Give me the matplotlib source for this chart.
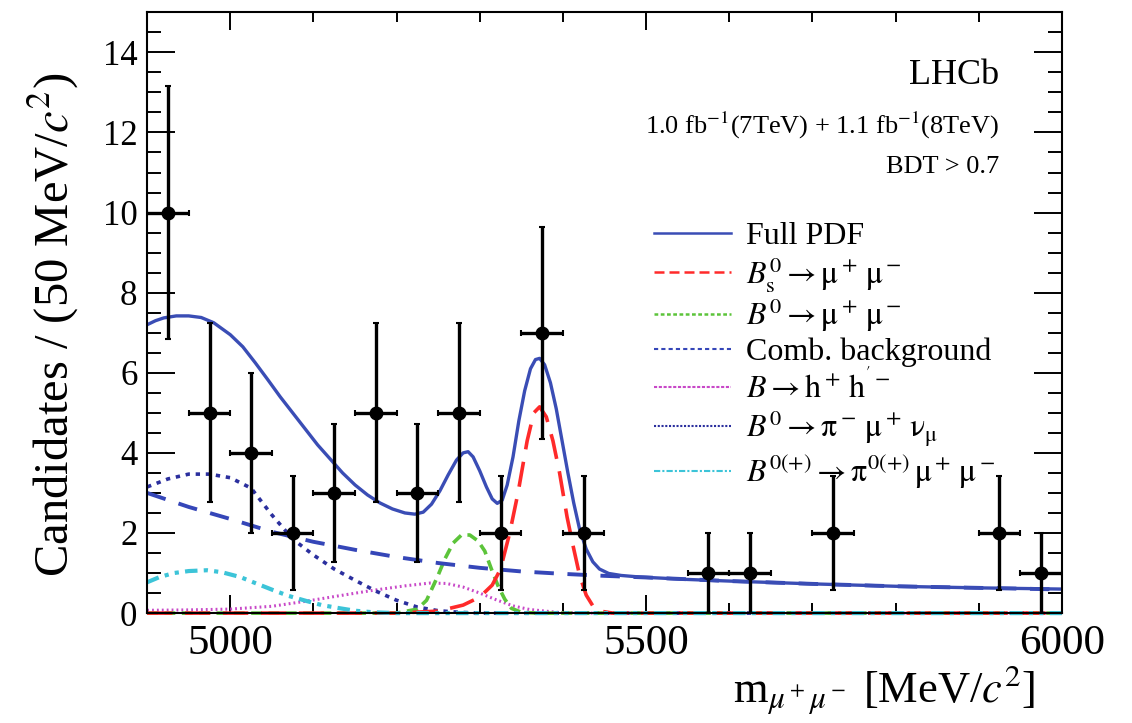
import matplotlib
matplotlib.use("Agg")
import matplotlib.pyplot as plt
from matplotlib.lines import Line2D
from matplotlib.ticker import MultipleLocator
import numpy as np

plt.rcParams['font.family'] = ['Liberation Serif', 'DejaVu Serif']
plt.rcParams['mathtext.fontset'] = 'stix'

# data points (bin centres, 50 MeV bins), empty bins not drawn
bin_centres = [4925, 4975, 5025, 5075, 5125, 5175, 5225, 5275, 5325, 5375,
               5425, 5575, 5625, 5725, 5925, 5975]
counts = [10, 5, 4, 2, 3, 5, 3, 5, 2, 7, 2, 1, 1, 2, 2, 1]

# fit curves
full_m = [4900, 4910, 4920, 4935, 4950, 4965, 4980, 5000, 5015, 5030, 5045,
          5060, 5075, 5090, 5105, 5120, 5135, 5150, 5165, 5180, 5195, 5210,
          5222, 5232, 5242, 5252, 5262, 5272, 5280, 5286, 5292, 5300, 5308,
          5315, 5321, 5327, 5333, 5340, 5347, 5354, 5361, 5367, 5372, 5378,
          5385, 5392, 5399, 5406, 5413, 5420, 5428, 5436, 5444, 5455, 5470,
          5493, 5550, 5600, 5700, 5800, 5900, 6000]
full_v = [7.2, 7.3, 7.37, 7.42, 7.42, 7.38, 7.25, 6.95, 6.65, 6.25, 5.83,
          5.4, 5.0, 4.6, 4.2, 3.85, 3.5, 3.2, 2.95, 2.75, 2.6, 2.5,
          2.47, 2.52, 2.72, 3.05, 3.45, 3.82, 4.0, 4.03, 3.9, 3.55, 3.15,
          2.85, 2.74, 2.82, 3.2, 3.9, 4.8, 5.55, 6.1, 6.33, 6.36, 6.2,
          5.75, 5.1, 4.3, 3.5, 2.75, 2.1, 1.6, 1.28, 1.1, 0.99, 0.94,
          0.9, 0.84, 0.8, 0.73, 0.67, 0.63, 0.6]

bs_m = [4900, 5200, 5250, 5280, 5300, 5315, 5325, 5336, 5346, 5357, 5365,
        5372, 5380, 5388, 5396, 5405, 5412, 5420, 5428, 5436, 5445, 5460, 6000]
bs_v = [0, 0, 0.05, 0.2, 0.4, 0.7, 1.1, 2.0, 3.0, 4.3, 5.0,
        5.15, 4.9, 4.3, 3.5, 2.4, 1.7, 0.95, 0.45, 0.18, 0.05, 0, 0]

bd_m = [4900, 5200, 5225, 5236, 5249, 5258, 5268, 5278, 5288, 5298, 5306,
        5314, 5322, 5330, 5338, 5350, 5370, 6000]
bd_v = [0, 0, 0.1, 0.32, 0.9, 1.35, 1.75, 1.95, 1.95, 1.8, 1.55,
        1.1, 0.68, 0.35, 0.12, 0.02, 0, 0]

comb_m = [4900, 4950, 5000, 5050, 5100, 5150, 5200, 5250, 5300, 5350, 5400,
          5450, 5500, 5600, 5700, 5800, 5900, 6000]
comb_v = [3.0, 2.65, 2.35, 2.03, 1.78, 1.58, 1.4, 1.25, 1.13, 1.04, 0.98,
          0.93, 0.89, 0.8, 0.73, 0.67, 0.63, 0.59]

hh_m = [4900, 4950, 5000, 5050, 5092, 5130, 5172, 5210, 5240, 5260, 5280,
        5300, 5320, 5340, 5360, 5393, 5420, 6000]
hh_v = [0.07, 0.08, 0.1, 0.17, 0.3, 0.43, 0.57, 0.68, 0.75, 0.74, 0.65,
        0.5, 0.33, 0.18, 0.09, 0.02, 0, 0]

pimunu_m = [4900, 4925, 4950, 4975, 5000, 5025, 5050, 5075, 5100, 5125, 5150,
            5175, 5200, 5225, 5250, 5275, 5300, 6000]
pimunu_v = [3.15, 3.35, 3.47, 3.47, 3.38, 3.12, 2.45, 1.85, 1.45, 1.1, 0.82,
            0.55, 0.32, 0.15, 0.06, 0.02, 0, 0]

pimumu_m = [4900, 4915, 4932, 4950, 4972, 4990, 5012, 5030, 5052, 5070, 5092,
            5110, 5132, 5150, 5172, 5200, 6000]
pimumu_v = [0.77, 0.9, 1.0, 1.05, 1.07, 1.02, 0.9, 0.75, 0.57, 0.43, 0.3,
            0.2, 0.12, 0.06, 0.02, 0, 0]

c_full = '#3a4db5'
c_bs = '#ff2a2a'
c_bd = '#5cc43a'
c_comb = '#3546b8'
c_hh = '#c848c8'
c_pimunu = '#2b2f9e'
c_pimumu = '#3cc4d8'

fig = plt.figure(figsize=(11.32, 7.23), dpi=100)
ax = fig.add_axes([0.130, 0.152, 0.808, 0.831])

# components (baseline parts drawn over the bottom spine, as in the original)
ax.plot(hh_m, hh_v, color=c_hh, lw=2.2, ls=(0, (0.6, 1.0)), clip_on=False)
ax.plot(pimunu_m, pimunu_v, color=c_pimunu, lw=2.6, ls=(0, (1.2, 1.6)),
        clip_on=False)
ax.plot(bd_m, bd_v, color=c_bd, lw=2.6, ls=(0, (3, 1.8)), clip_on=False)
ax.plot(bs_m, bs_v, color=c_bs, lw=2.6, ls=(0, (7, 3.5)), clip_on=False)
ax.plot(pimumu_m, pimumu_v, color=c_pimumu, lw=3.0,
        ls=(0, (3, 1.5, 1, 1.5, 1, 1.5)), clip_on=False)
ax.plot(comb_m, comb_v, color=c_comb, lw=2.8, ls=(0, (5, 3.5)))
ax.plot(full_m, full_v, color=c_full, lw=2.4)

errs = np.sqrt(counts)
ax.errorbar(bin_centres, counts, xerr=25, yerr=errs, fmt='o', color='black',
            ms=9, elinewidth=2.4, capsize=2.5, capthick=1.5, zorder=5)

ax.set_xlim(4900, 6000)
ax.set_ylim(0, 15)
ax.xaxis.set_major_locator(MultipleLocator(500))
ax.xaxis.set_minor_locator(MultipleLocator(100))
ax.yaxis.set_major_locator(MultipleLocator(2))
ax.yaxis.set_minor_locator(MultipleLocator(0.5))
ax.tick_params(which='both', direction='in', top=True, right=True, width=1.4)
ax.tick_params(axis='y', which='major', length=20, pad=7, labelsize=25)
ax.tick_params(axis='y', which='minor', length=10)
ax.tick_params(axis='x', which='major', length=13, pad=8, labelsize=31)
ax.tick_params(axis='x', which='minor', length=7)
for s in ax.spines.values():
    s.set_linewidth(1.5)

ax.set_ylabel(r"Candidates / (50 MeV/$c^2$)", fontsize=35)
ax.yaxis.set_label_coords(-0.072, 0.48)
fig.text(1035 / 1132, 1 - 690 / 723, r"m$_{\mu^+\mu^-}$ [MeV/$c^2$]",
         fontsize=32, ha='right', va='center')

ax.text(0.932, 0.895, "LHCb", transform=ax.transAxes, fontsize=26,
        ha='right', va='center')
ax.text(0.932, 0.812, r"1.0 fb$^{-1}$(7TeV) + 1.1 fb$^{-1}$(8TeV)",
        transform=ax.transAxes, fontsize=19, ha='right', va='center')
ax.text(0.932, 0.742, "BDT > 0.7", transform=ax.transAxes, fontsize=19,
        ha='right', va='center')

handles = [
    Line2D([], [], color=c_full, lw=1.8),
    Line2D([], [], color=c_bs, lw=1.8, ls=(0, (4, 2))),
    Line2D([], [], color=c_bd, lw=1.8, ls=(0, (1.5, 1))),
    Line2D([], [], color=c_comb, lw=1.5, ls=(0, (2, 1.5))),
    Line2D([], [], color=c_hh, lw=1.5, ls=(0, (1.5, 0.8))),
    Line2D([], [], color=c_pimunu, lw=1.5, ls=(0, (1, 0.8))),
    Line2D([], [], color=c_pimumu, lw=1.5, ls=(0, (3, 1, 1, 1))),
]
labels = [
    "Full PDF",
    r"$B^0_\mathrm{s} \rightarrow \mathrm{\mu^+\,\mu^-}$",
    r"$B^0 \rightarrow \mathrm{\mu^+\,\mu^-}$",
    "Comb. background",
    r"$B \rightarrow \mathrm{h^+\,h^{'-}}$",
    r"$B^0 \rightarrow \mathrm{\pi^-\,\mu^+\,\nu_\mu}$",
    r"$B^{0(+)} \rightarrow \mathrm{\pi^{0(+)}\,\mu^+\,\mu^-}$",
]
fig.legend(handles, labels, loc='upper left',
           bbox_to_anchor=(638 / 1132, 1 - 206 / 723), frameon=False,
           fontsize=23, handlelength=2.4, handletextpad=0.47,
           labelspacing=0.1, borderpad=0)

fig.savefig("out.png", dpi=100)
